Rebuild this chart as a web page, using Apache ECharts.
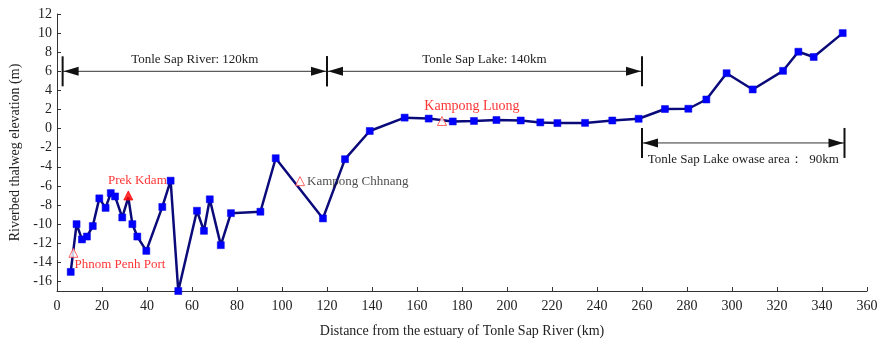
<!DOCTYPE html>
<html>
<head>
<meta charset="utf-8">
<script src="https://cdn.jsdelivr.net/npm/echarts@6/dist/echarts.min.js"></script>
<style>
  html, body { margin: 0; padding: 0; background: #fff; }
  #chart { width: 888px; height: 343px; }
</style>
</head>
<body>
<div id="chart"></div>
<script>
// Thalweg survey: distance along the river (km) and riverbed elevation (m)
const distanceKm = [6.1, 8.7, 11.1, 13.3, 15.9, 18.8, 21.6, 23.9, 25.8, 29.0, 31.7, 33.5, 35.7, 39.7, 46.8, 50.5, 53.9,
  62.2, 65.3, 67.9, 72.8, 77.3, 90.4, 97.2, 118.2, 128.0, 139.0, 154.5, 165.2, 175.9, 185.3, 195.3, 206.1,
  214.8, 222.4, 234.7, 246.8, 258.5, 270.2, 280.6, 288.6, 297.6, 309.2, 322.7, 329.5, 336.3, 349.2];
const elevation = [-15.0, -10.0, -11.6, -11.3, -10.2, -7.3, -8.3, -6.75, -7.1, -9.3, -7.2, -10.0, -11.3, -12.8, -8.2, -5.45, -17.0,
  -8.6, -10.7, -7.4, -12.2, -8.85, -8.7, -3.1, -9.4, -3.2, -0.25, 1.15, 1.05, 0.75, 0.8, 0.9, 0.85,
  0.65, 0.58, 0.6, 0.85, 1.03, 2.05, 2.08, 3.05, 5.8, 4.1, 6.05, 8.05, 7.5, 10.0];
// vertex sitting under a station marker (no square drawn there)
const hiddenVertex = [31.7];

// Gauging stations
const stationNames = ['Phnom Penh Port', 'Prek Kdam', 'Kampong Chhnang', 'Kampong Luong'];
const stationKm = [7.3, 31.7, 108.0, 171.1];
const stationElev = [-13.0, -7.0, -5.5, 0.8];
const stationFilled = [false, true, false, false];

// Reach spans drawn as dimension arrows
const spanStartKm = [2.5, 120, 260];
const spanEndKm = [120, 260, 350];
const spanElev = [6, 6, -1.5];
const spanText = ['Tonle Sap River: 120km', 'Tonle Sap Lake: 140km', 'Tonle Sap Lake owase area：  90km'];

// Tick labels
const yTicks = [-16, -14, -12, -10, -8, -6, -4, -2, 0, 2, 4, 6, 8, 10, 12];

const FONT = '"Liberation Serif", "DejaVu Serif", serif';

// label placement for each station marker
const stationLabelStyle = {
  'Phnom Penh Port': { position: [6, 17], align: 'left', color: '#ff0000', fontSize: 13 },
  'Prek Kdam': { position: [14, -10], align: 'center', color: '#ff0000', fontSize: 13 },
  'Kampong Chhnang': { position: [12, 5], align: 'left', color: '#222', fontSize: 13 },
  'Kampong Luong': { position: [35, -10], align: 'center', color: '#ff0000', fontSize: 14 }
};

const profileData = distanceKm.map((d, i) => {
  const item = { value: [d, elevation[i]] };
  if (hiddenVertex.includes(d)) item.symbol = 'none';
  return item;
});

const stationData = stationNames.map((n, i) => {
  const st = stationLabelStyle[n];
  return {
    name: n,
    value: [stationKm[i], stationElev[i]],
    itemStyle: stationFilled[i]
      ? { color: '#ff0000', borderColor: '#ff0000', borderWidth: 1 }
      : { color: '#ffffff', borderColor: '#ff4040', borderWidth: 1 },
    label: {
      show: true,
      formatter: n,
      position: st.position,
      align: st.align,
      verticalAlign: 'middle',
      color: st.color,
      fontSize: st.fontSize,
      fontFamily: FONT
    }
  };
});

const spanData = spanStartKm.map((s, i) => [s, spanEndKm[i], spanElev[i], i]);

function renderSpan(params, api) {
  const idx = api.value(3);
  const p0 = api.coord([api.value(0), api.value(2)]);
  const p1 = api.coord([api.value(1), api.value(2)]);
  const y = p0[1];
  const barH = 15, headL = 15, headW = 4.5;
  const col = '#111';
  const below = idx === 2;
  return {
    type: 'group',
    children: [
      { type: 'line', shape: { x1: p0[0], y1: y, x2: p1[0], y2: y }, style: { stroke: '#333', lineWidth: 1 } },
      { type: 'line', shape: { x1: p0[0], y1: y - barH, x2: p0[0], y2: y + barH }, style: { stroke: col, lineWidth: 2 } },
      { type: 'line', shape: { x1: p1[0], y1: y - barH, x2: p1[0], y2: y + barH }, style: { stroke: col, lineWidth: 2 } },
      { type: 'polygon', shape: { points: [[p0[0] + 1, y], [p0[0] + 1 + headL, y - headW], [p0[0] + 1 + headL, y + headW]] }, style: { fill: col } },
      { type: 'polygon', shape: { points: [[p1[0] - 1, y], [p1[0] - 1 - headL, y - headW], [p1[0] - 1 - headL, y + headW]] }, style: { fill: col } },
      {
        type: 'text',
        x: (p0[0] + p1[0]) / 2,
        y: below ? y + 17 : y - 12,
        style: {
          text: spanText[idx],
          fill: '#222',
          font: '13px ' + FONT,
          align: 'center',
          verticalAlign: 'middle'
        }
      }
    ]
  };
}

const chart = echarts.init(document.getElementById('chart'), null, { renderer: 'canvas' });
chart.setOption({
  animation: false,
  backgroundColor: '#fff',
  grid: { left: 57, right: 21, top: 14, bottom: 47, containLabel: false },
  xAxis: {
    type: 'value',
    min: 0, max: 360, interval: 20,
    name: 'Distance from the estuary of Tonle Sap River (km)',
    nameLocation: 'middle',
    nameGap: 33,
    nameTextStyle: { fontFamily: FONT, fontSize: 14, color: '#222' },
    axisLine: { show: true, onZero: false, lineStyle: { color: '#333', width: 1 } },
    axisTick: { show: true, inside: true, length: 4, lineStyle: { color: '#333' } },
    axisLabel: { fontFamily: FONT, fontSize: 14, color: '#222', margin: 8 },
    splitLine: { show: false }
  },
  yAxis: {
    type: 'value',
    min: -17, max: 12,
    name: 'Riverbed thalweg elevation (m)',
    nameLocation: 'middle',
    nameGap: 30,
    nameRotate: 90,
    nameTextStyle: { fontFamily: FONT, fontSize: 14, color: '#222' },
    axisLine: { show: true, onZero: false, lineStyle: { color: '#333', width: 1 } },
    axisTick: { show: true, inside: true, length: 4, customValues: yTicks, lineStyle: { color: '#333' } },
    axisLabel: { fontFamily: FONT, fontSize: 14, color: '#222', margin: 5, customValues: yTicks },
    splitLine: { show: false }
  },
  series: [
    {
      type: 'line',
      data: profileData,
      symbol: 'rect',
      symbolSize: 7,
      lineStyle: { color: '#0a0a7a', width: 2.5 },
      itemStyle: { color: '#0000ff', borderColor: '#0000dd', borderWidth: 0.5 },
      z: 3,
      clip: true
    },
    {
      type: 'scatter',
      data: stationData,
      symbol: 'triangle',
      symbolSize: 9,
      z: 5
    },
    {
      type: 'custom',
      data: spanData,
      renderItem: renderSpan,
      encode: { x: [0, 1], y: 2 },
      clip: false,
      z: 4
    }
  ]
});
</script>
</body>
</html>
